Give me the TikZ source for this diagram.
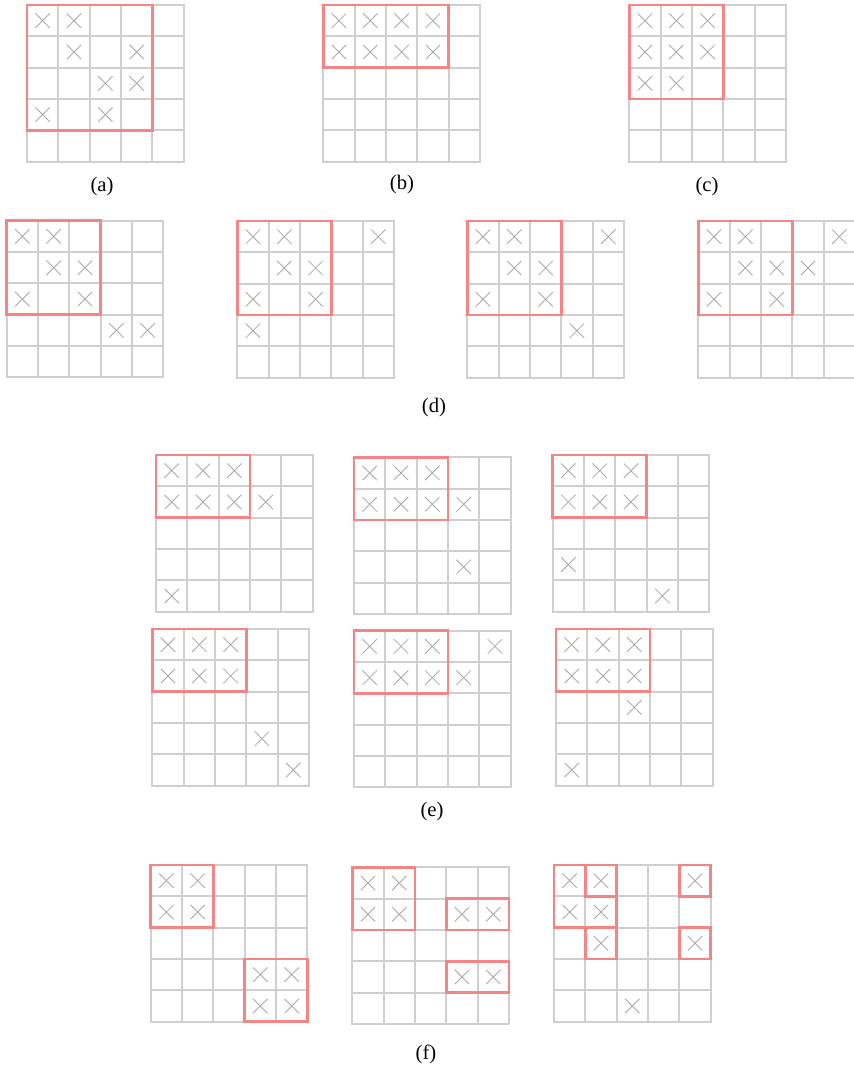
\documentclass[tikz,border=0pt]{standalone}
\usepackage{fontspec}
\setmainfont{Liberation Serif}
\definecolor{gridgray}{HTML}{CFCFCF}
\definecolor{crossgray}{HTML}{A8A8A8}
\definecolor{boxred}{HTML}{F58585}
\tikzset{
  gridline/.style={draw=gridgray, line width=1.55pt, line cap=rect},
  crossline/.style={draw=crossgray, line width=0.65pt},
  redbox/.style={draw=boxred, line width=1.9pt, line cap=rect, line join=miter},
  sublabel/.style={inner sep=0pt, font=\fontsize{15.5}{18}\selectfont}
}
\def\cs{31.33}
\def\hh{7.2}
\newcommand\mygrid[4]{%
  \begin{scope}[shift={(#1,#2)}]
    \foreach \i in {0,...,5} {
      \draw[gridline] ({\i*\cs},0) -- ({\i*\cs},{5*\cs});
      \draw[gridline] (0,{\i*\cs}) -- ({5*\cs},{\i*\cs});
    }
    \foreach \c/\r in {#3} {
      \draw[crossline] ({(\c+0.5)*\cs-\hh},{(\r+0.5)*\cs-\hh}) -- ({(\c+0.5)*\cs+\hh},{(\r+0.5)*\cs+\hh});
      \draw[crossline] ({(\c+0.5)*\cs-\hh},{(\r+0.5)*\cs+\hh}) -- ({(\c+0.5)*\cs+\hh},{(\r+0.5)*\cs-\hh});
    }
    \foreach \pa/\pb/\pc/\pd in {#4} {
      \draw[redbox] ({\pa*\cs},{\pb*\cs}) rectangle ({\pc*\cs},{\pd*\cs});
    }
  \end{scope}}
\begin{document}
\begin{tikzpicture}[x=0.75pt, y=-0.75pt]
  \useasboundingbox (0,0) rectangle (853,1066);
  % row (a)(b)(c)
  \mygrid{27}{5}{0/0,1/0,1/1,3/1,2/2,3/2,0/3,2/3}{0/0/4/4}
  \mygrid{323.3}{5}{0/0,1/0,2/0,3/0,0/1,1/1,2/1,3/1}{0/0/4/2}
  \mygrid{629.3}{5}{0/0,1/0,2/0,0/1,1/1,2/1,0/2,1/2}{0/0/3/3}
  \node[sublabel] (la) at (102,187) {(a)};
  \node[sublabel] (lb) at (402,185) {(b)};
  \node[sublabel] (lc) at (707,187) {(c)};
  % row (d)
  \mygrid{6.7}{220.7}{0/0,1/0,1/1,2/1,0/2,2/2,3/3,4/3}{0/0/3/3}
  \mygrid{237.3}{221}{0/0,1/0,4/0,1/1,2/1,0/2,2/2,0/3}{0/0/3/3}
  \mygrid{467.3}{221}{0/0,1/0,4/0,1/1,2/1,0/2,2/2,3/3}{0/0/3/3}
  \mygrid{698.3}{221}{0/0,1/0,4/0,1/1,2/1,3/1,0/2,2/2}{0/0/3/3}
  \node[sublabel] (ld) at (434,408) {(d)};
  % row (e)
  \mygrid{156}{455}{0/0,1/0,2/0,0/1,1/1,2/1,3/1,0/4}{0/0/3/2}
  \mygrid{354}{457.3}{0/0,1/0,2/0,0/1,1/1,2/1,3/1,3/3}{0/0/3/2}
  \mygrid{552.7}{455}{0/0,1/0,2/0,0/1,1/1,2/1,0/3,3/4}{0/0/3/2}
  \mygrid{152.3}{629}{0/0,1/0,2/0,0/1,1/1,2/1,3/3,4/4}{0/0/3/2}
  \mygrid{354}{630.7}{0/0,1/0,2/0,4/0,0/1,1/1,2/1,3/1}{0/0/3/2}
  \mygrid{556}{629}{0/0,1/0,2/0,0/1,1/1,2/1,2/2,0/4}{0/0/3/2}
  \node[sublabel] (le) at (432,812) {(e)};
  % row (f)
  \mygrid{150.7}{865}{0/0,1/0,0/1,1/1,3/3,4/3,3/4,4/4}{0/0/2/2,3/3/5/5}
  \mygrid{352.3}{867.3}{0/0,1/0,0/1,1/1,3/1,4/1,3/3,4/3}{0/0/2/2,3/1/5/2,3/3/5/4}
  \mygrid{554}{865}{0/0,1/0,4/0,0/1,1/1,1/2,4/2,2/4}{0/0/2/2,1/0/2/1,1/2/2/3,4/0/5/1,4/2/5/3}
  \node[sublabel] (lf) at (426,1054) {(f)};
\end{tikzpicture}
\end{document}
